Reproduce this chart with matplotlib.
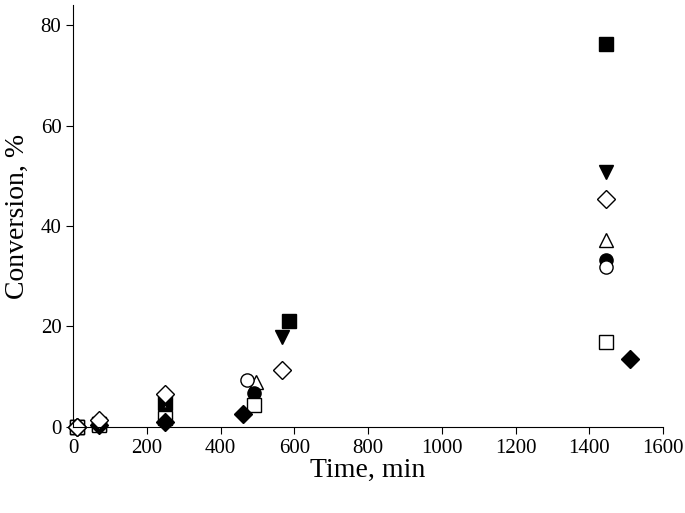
import matplotlib
matplotlib.use("Agg")
import matplotlib.pyplot as plt

plt.rcParams['font.family'] = ['Liberation Serif', 'DejaVu Serif']

# sampling times (min) and conversions (%) for each series
t_sq_f = [10, 70, 250, 585, 1445]
c_sq_f = [0, 0.6, 4.8, 21.0, 76.3]
t_tri_d = [10, 70, 250, 565, 1445]
c_tri_d = [0, 0.5, 4.2, 17.8, 50.8]
t_dia_o = [10, 70, 250, 565, 1445]
c_dia_o = [0, 1.3, 6.6, 11.3, 45.4]
t_tri_o = [10, 70, 250, 495, 1445]
c_tri_o = [0, 0.6, 3.2, 8.9, 37.2]
t_circ_f = [10, 70, 250, 490, 1445]
c_circ_f = [0, 0.5, 2.6, 6.7, 33.2]
t_circ_o = [10, 70, 250, 470, 1445]
c_circ_o = [0, 0.6, 2.0, 9.3, 31.9]
t_sq_o = [10, 70, 250, 490, 1445]
c_sq_o = [0, 0.4, 1.8, 4.4, 16.9]
t_dia_f = [10, 70, 250, 460, 1510]
c_dia_f = [0, 0.3, 0.9, 2.5, 13.6]

fig = plt.figure(figsize=(6.85, 5.13), dpi=100)
ax = fig.add_axes([0.107, 0.168, 0.861, 0.822])

ms = 9.5
ax.plot(t_sq_f, c_sq_f, 's', color='black', ms=ms, clip_on=False)
ax.plot(t_tri_d, c_tri_d, 'v', color='black', ms=ms + 1, clip_on=False)
ax.plot(t_tri_o, c_tri_o, '^', mfc='white', mec='black', ms=ms + 1, clip_on=False)
ax.plot(t_circ_f, c_circ_f, 'o', color='black', ms=ms, clip_on=False)
ax.plot(t_circ_o, c_circ_o, 'o', mfc='white', mec='black', ms=ms, clip_on=False)
ax.plot(t_sq_o, c_sq_o, 's', mfc='white', mec='black', ms=ms, clip_on=False)
ax.plot(t_dia_f, c_dia_f, 'D', color='black', ms=ms, clip_on=False)
ax.plot(t_dia_o, c_dia_o, 'D', mfc='white', mec='black', ms=ms, clip_on=False)

ax.set_xlim(0, 1600)
ax.set_ylim(0, 84)
ax.set_xticks(range(0, 1601, 200))
ax.set_yticks([0, 20, 40, 60, 80])
ax.spines['top'].set_visible(False)
ax.spines['right'].set_visible(False)
ax.tick_params(direction='out', length=5, labelsize=15)
ax.set_xlabel('Time, min', fontsize=20, labelpad=0)
ax.set_ylabel('Conversion, %', fontsize=20, labelpad=8)

fig.savefig('out.png', dpi=100)
